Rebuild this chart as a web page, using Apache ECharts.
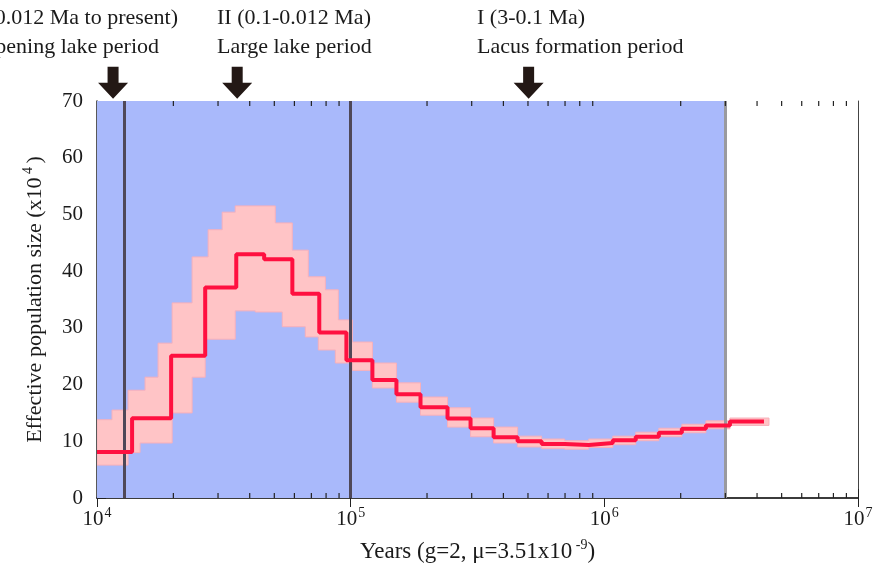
<!DOCTYPE html>
<html><head><meta charset="utf-8">
<script src="https://cdn.jsdelivr.net/npm/echarts@6/dist/echarts.min.js"></script>
<style>html,body{margin:0;padding:0;background:#fff}#c{width:876px;height:572px}</style>
</head><body><div id="c"></div>
<script>
// Median (red) step curve: step edges in years and Ne (x10^4) per step
const stepEdges = [10000, 13750, 19600, 26700, 35400, 45600, 58900, 75200, 96200, 121800, 151500, 188500, 240900, 296900, 366000, 455100, 566100, 697900, 867900, 1080000, 1330000, 1640000, 2021000, 2514000, 3127000, 4259000];
const medianNe = [8.1, 14.05, 25.1, 37.1, 43.0, 42.1, 36.0, 29.2, 24.3, 20.8, 18.3, 16.0, 14.0, 12.3, 10.7, 10.0, 9.5, 9.35, 9.7, 10.2, 10.8, 11.5, 12.2, 12.8, 13.5];
// Bootstrap envelope (pink band): upper and lower step outlines
const upperEdges = [10000, 11460, 13260, 15470, 17410, 19780, 23710, 27430, 31150, 35070, 50440, 58860, 68080, 79460, 89410, 101600, 121800, 151500, 188500, 240900, 296900, 366000, 455100, 566100, 697900, 867900, 1080000, 1330000, 1640000, 2021000, 2514000, 3127000, 4457000];
const upperNe = [13.8, 15.5, 19.0, 21.3, 27.3, 34.4, 42.5, 47.3, 50.4, 51.5, 48.5, 43.7, 39.0, 36.7, 31.4, 27.5, 23.8, 20.3, 17.8, 15.9, 14.1, 12.5, 10.9, 10.4, 10.1, 10.4, 10.9, 11.6, 12.3, 13.0, 13.6, 14.1];
const lowerEdges = [10000, 13260, 14780, 19780, 23710, 26700, 35070, 42060, 53750, 66250, 74560, 87010, 101600, 121800, 151500, 188500, 240900, 296900, 366000, 455100, 566100, 697900, 867900, 1080000, 1330000, 1640000, 2021000, 2514000, 3127000, 4457000];
const lowerNe = [5.8, 8.0, 9.7, 15.0, 21.3, 28.0, 33.0, 32.8, 30.2, 28.4, 26.1, 23.8, 22.5, 19.4, 16.9, 14.6, 12.5, 10.8, 9.7, 9.0, 8.7, 8.6, 8.9, 9.4, 10.1, 10.8, 11.5, 12.2, 12.8];
// Period boundaries and shaded span (years)
const periodLines = [12800, 100000];
const lakeEnd = 3000000;
const lakeSpan = [10000, 3000000];
const arrowYears = [11570, 35700, 503000];
const arrowLevel = 73.2;
const minorTickYears = [20000,30000,40000,50000,60000,70000,80000,90000,200000,300000,400000,500000,600000,700000,800000,900000,2000000,3000000,4000000,5000000,6000000,7000000,8000000,9000000];
const xMin = 10000, xMax = 10000000;
const yMin = 0, yMax = 70, yStep = 10;

const FONT = 'Liberation Serif';
const chart = echarts.init(document.getElementById('c'));

const medianData = medianNe.map((v, i) => [stepEdges[i], v]);
medianData.push([stepEdges[stepEdges.length - 1], medianNe[medianNe.length - 1]]);

function supLabel(v) {
  return '{b|10}{s|' + Math.round(Math.log10(v)) + '}';
}

const option = {
  animation: false,
  grid: { left: 97, right: 18, top: 101, bottom: 74 },
  xAxis: [{
    type: 'log', min: xMin, max: xMax, logBase: 10,
    axisLine: { lineStyle: { color: '#222', width: 1.5 } },
    axisTick: { inside: true, length: 9, lineStyle: { color: '#222' } },
    splitLine: { show: false },
    axisLabel: {
      margin: 8, formatter: supLabel,
      rich: {
        b: { fontFamily: FONT, fontSize: 21, color: '#1a1a1a' },
        s: { fontFamily: FONT, fontSize: 14, color: '#1a1a1a', padding: [0, 0, 12, 1] }
      }
    },
    name: '{a|Years (g=2, μ=3.51x10}{s| -9}{a|)}',
    nameLocation: 'middle', nameGap: 40,
    nameTextStyle: {
      rich: {
        a: { fontFamily: FONT, fontSize: 23, color: '#1a1a1a' },
        s: { fontFamily: FONT, fontSize: 14, color: '#1a1a1a', padding: [0, 0, 14, 0] }
      }
    }
  }, {
    type: 'log', min: xMin, max: xMax, logBase: 10, position: 'top',
    axisLine: { show: true, lineStyle: { color: '#333', width: 1.5 } },
    axisTick: { inside: true, length: 9, lineStyle: { color: '#222' } },
    axisLabel: { show: false }, splitLine: { show: false }
  }],
  yAxis: [{
    type: 'value', min: yMin, max: yMax, interval: yStep,
    axisLine: { show: true, lineStyle: { color: '#222', width: 1.5 } },
    axisTick: { show: true, inside: true, length: 9, lineStyle: { color: '#222' } },
    minorTick: { show: true, splitNumber: 10, length: 5, lineStyle: { color: '#222' } },
    splitLine: { show: false },
    axisLabel: { fontFamily: FONT, fontSize: 21, color: '#1a1a1a', margin: 14 },
    name: '{a|Effective population size (x10}{s| 4 }{a|)}',
    nameLocation: 'middle', nameGap: 48, nameRotate: 90,
    nameTextStyle: {
      rich: {
        a: { fontFamily: FONT, fontSize: 22, color: '#1a1a1a' },
        s: { fontFamily: FONT, fontSize: 14, color: '#1a1a1a', padding: [0, 0, 14, 0] }
      }
    }
  }, {
    type: 'value', min: yMin, max: yMax, interval: yStep, position: 'right',
    axisLine: { show: true, lineStyle: { color: '#444', width: 1 } },
    axisTick: { show: false }, axisLabel: { show: false }, splitLine: { show: false }
  }],
  series: [
    {
      type: 'line', data: [], z: 1, silent: true,
      markArea: {
        silent: true,
        itemStyle: { color: '#a9b9fb', opacity: 1 },
        data: [[{ xAxis: lakeSpan[0] }, { xAxis: lakeSpan[1] }]]
      }
    },
    {
      type: 'custom', z: 2, silent: true, clip: true,
      data: [[xMin, 0]],
      renderItem: function (params, api) {
        const pts = [];
        for (let i = 0; i < upperNe.length; i++) {
          pts.push(api.coord([upperEdges[i], upperNe[i]]));
          pts.push(api.coord([upperEdges[i + 1], upperNe[i]]));
        }
        for (let i = lowerNe.length - 1; i >= 0; i--) {
          pts.push(api.coord([lowerEdges[i + 1], lowerNe[i]]));
          pts.push(api.coord([lowerEdges[i], lowerNe[i]]));
        }
        return {
          type: 'polygon', shape: { points: pts },
          style: { fill: '#ffc4c6', stroke: '#f7b0bb', lineWidth: 1 }
        };
      }
    },
    {
      type: 'line', data: [], z: 3, silent: true,
      markLine: {
        silent: true, symbol: 'none', label: { show: false },
        data: [
          { xAxis: periodLines[0], lineStyle: { color: '#4f4858', width: 3, type: 'solid', opacity: 1 } },
          { xAxis: periodLines[1], lineStyle: { color: '#4f4858', width: 3, type: 'solid', opacity: 1 } },
          { xAxis: lakeEnd, lineStyle: { color: '#9a9a9e', width: 3, type: 'solid', opacity: 1 } }
        ]
      }
    },
    {
      type: 'line', step: 'end', data: medianData, z: 5, silent: true,
      showSymbol: false, symbol: 'none',
      lineStyle: { color: '#ff1040', width: 4 }
    },
    {
      type: 'custom', z: 6, silent: true, clip: false,
      data: minorTickYears.map(v => [v]),
      renderItem: function (params, api) {
        const v = api.value(0);
        const b = api.coord([v, yMin]);
        const t = api.coord([v, yMax]);
        return {
          type: 'group', children: [
            { type: 'line', shape: { x1: b[0], y1: b[1], x2: b[0], y2: b[1] - 5 }, style: { stroke: '#222', lineWidth: 1.2 } },
            { type: 'line', shape: { x1: t[0], y1: t[1], x2: t[0], y2: t[1] + 5 }, style: { stroke: '#222', lineWidth: 1.2 } }
          ]
        };
      }
    },
    {
      type: 'scatter', z: 7, silent: true, clip: false,
      data: arrowYears.map(v => [v, arrowLevel]),
      symbol: 'path://M9.5,0 L20.5,0 L20.5,16 L30,16 L15,32 L0,16 L9.5,16 Z',
      symbolSize: [30, 32],
      itemStyle: { color: '#231815', opacity: 1 }
    }
  ],
  graphic: [
    { type: 'text', style: { text: 'III (0.012 Ma to present)', x: 178, y: 18, textAlign: 'right', textVerticalAlign: 'middle', font: '22px "Liberation Serif"', fill: '#1a1a1a' } },
    { type: 'text', style: { text: 'Deepening lake period', x: 159, y: 47, textAlign: 'right', textVerticalAlign: 'middle', font: '22px "Liberation Serif"', fill: '#1a1a1a' } },
    { type: 'text', style: { text: 'II (0.1-0.012 Ma)', x: 217, y: 18, textAlign: 'left', textVerticalAlign: 'middle', font: '22px "Liberation Serif"', fill: '#1a1a1a' } },
    { type: 'text', style: { text: 'Large lake period', x: 217, y: 47, textAlign: 'left', textVerticalAlign: 'middle', font: '22px "Liberation Serif"', fill: '#1a1a1a' } },
    { type: 'text', style: { text: 'I (3-0.1 Ma)', x: 477, y: 18, textAlign: 'left', textVerticalAlign: 'middle', font: '22px "Liberation Serif"', fill: '#1a1a1a' } },
    { type: 'text', style: { text: 'Lacus formation period', x: 477, y: 47, textAlign: 'left', textVerticalAlign: 'middle', font: '22px "Liberation Serif"', fill: '#1a1a1a' } }
  ]
};
chart.setOption(option);
</script>
</body></html>
